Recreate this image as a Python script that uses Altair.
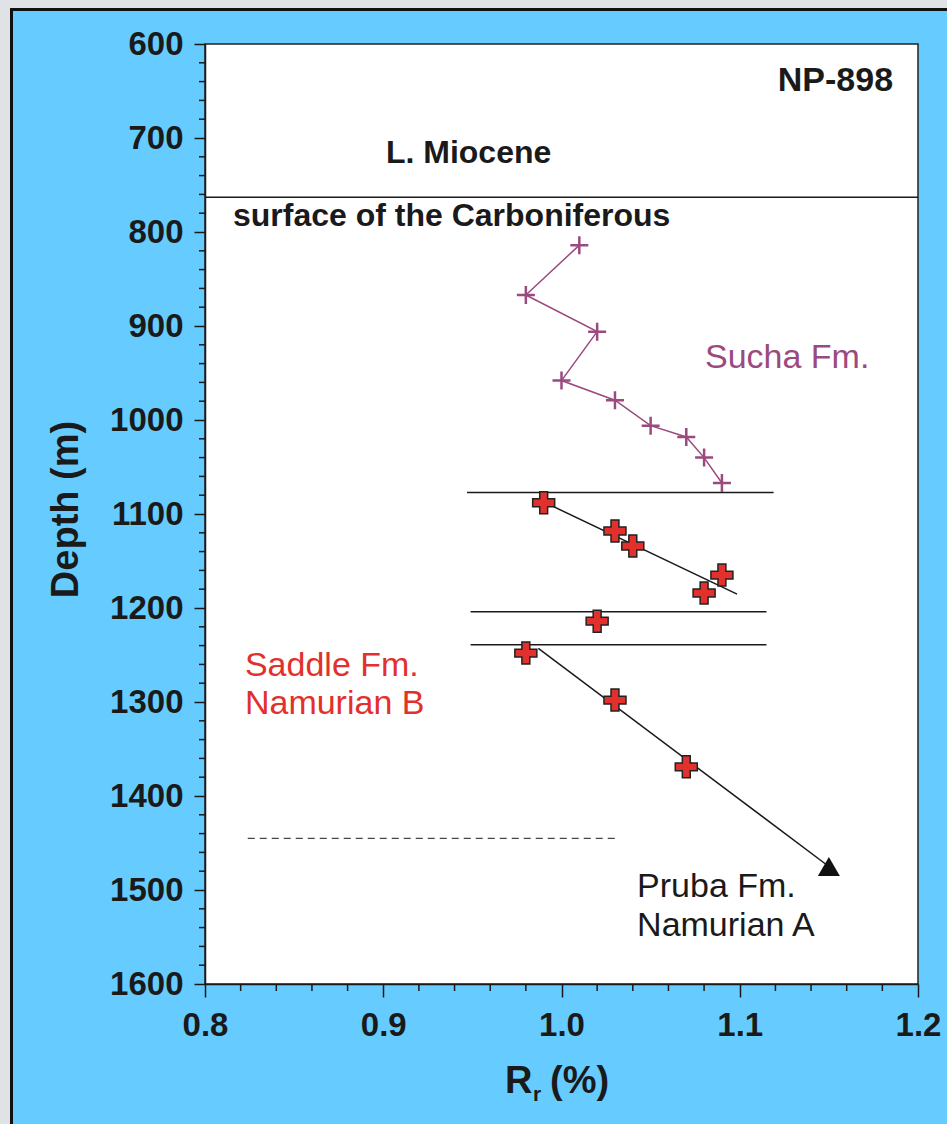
import altair as alt
import numpy as np
import pandas as pd

# Vitrinite reflectance (Rr, %) against depth (m) in well NP-898
sucha_rr = [1.01, 0.98, 1.02, 1.00, 1.03, 1.05, 1.07, 1.08, 1.09]
sucha_depth = [814, 867, 906, 958, 979, 1006, 1018, 1040, 1067]

saddle_rr = [0.99, 1.03, 1.04, 1.09, 1.08, 1.02, 0.98, 1.03, 1.07]
saddle_depth = [1088, 1118, 1134, 1165, 1184, 1214, 1248, 1298, 1369]
saddle_block = ["upper", "upper", "upper", "upper", "upper", "middle", "lower", "lower", "lower"]

pruba_rr = [1.15]
pruba_depth = [1475]

# extent of the least-squares fit through the upper Saddle block
upper_fit_extent = [0.99, 1.0985]

# lower trend line, running down to the extrapolated Pruba value
trend_rr = [0.987, 1.15]
trend_depth = [1243, 1475]

# formation boundaries: depth and horizontal extent
boundary_depth = [763, 1077, 1204, 1239]
boundary_from = [0.8, 0.947, 0.949, 0.949]
boundary_to = [1.2, 1.119, 1.115, 1.115]

dashed_depth = [1445]
dashed_from = [0.824]
dashed_to = [1.031]

depth_ticks = [600, 700, 800, 900, 1000, 1100, 1200, 1300, 1400, 1500, 1600]
rr_ticks = [0.8, 0.9, 1.0, 1.1, 1.2]
depth_minor = [d for d in range(620, 1600, 20) if d % 100]
rr_minor = [round(0.8 + 0.02 * i, 2) for i in range(1, 20) if i % 5]

FONT = "Liberation Sans"
INK = "#1a1a1a"
PURPLE = "#9a4a7e"
RED = "#e2302c"
BLUE = "#66ccff"

x_axis = alt.Axis(values=rr_ticks, format=".1f", title=None, tickSize=13, tickWidth=1.5,
                  tickColor=INK, domainColor=INK, domainWidth=1.5, labelPadding=12,
                  labelFont=FONT, labelFontWeight="bold", labelFontSize=33, labelColor=INK,
                  labelFlush=False, labelOverlap=False, grid=False)
y_axis = alt.Axis(values=depth_ticks, format="d", title="Depth (m)", tickSize=11, tickWidth=1.5,
                  tickColor=INK, domainColor=INK, domainWidth=1.5, labelPadding=11,
                  labelFont=FONT, labelFontWeight="bold", labelFontSize=33, labelColor=INK,
                  labelFlush=False, labelOverlap=False, grid=False,
                  titleFont=FONT, titleFontWeight="bold", titleFontSize=38, titleColor=INK,
                  titleAngle=270, titleAlign="center", titleBaseline="alphabetic",
                  titleX=-128, titleY=465)

x_scale = alt.Scale(domain=[0.8, 1.2], nice=False, zero=False)
y_scale = alt.Scale(domain=[600, 1600], nice=False, zero=False, reverse=True)


def X(field="rr"):
    return alt.X(f"{field}:Q", scale=x_scale, axis=x_axis)


def Y(field="depth"):
    return alt.Y(f"{field}:Q", scale=y_scale, axis=y_axis)


one = pd.DataFrame({"k": [0]})

sucha = pd.DataFrame({"rr": sucha_rr, "depth": sucha_depth, "seq": range(len(sucha_rr))})
saddle = pd.DataFrame({"rr": saddle_rr, "depth": saddle_depth, "block": saddle_block})
pruba = pd.DataFrame({"rr": pruba_rr, "depth": pruba_depth})
trend = pd.DataFrame({"rr": trend_rr, "depth": trend_depth})
bounds = pd.DataFrame({"depth": boundary_depth, "rr": boundary_from, "rr_end": boundary_to})
dashed = pd.DataFrame({"depth": dashed_depth, "rr": dashed_from, "rr_end": dashed_to})

# linear fit of depth on Rr for the upper Saddle block
upper = saddle[saddle["block"] == "upper"]
slope, intercept = np.polyfit(upper["rr"], upper["depth"], 1)
upper_fit = pd.DataFrame({
    "rr": upper_fit_extent,
    "depth": [slope * r + intercept for r in upper_fit_extent],
})

# outer sheet edge: grey margin and black frame line at top and left
frame = alt.layer(
    alt.Chart(one).mark_rect(color="#dfe3e6").encode(
        x=alt.value(-205), x2=alt.value(742), y=alt.value(-44), y2=alt.value(-36)),
    alt.Chart(one).mark_rect(color="#dfe3e6").encode(
        x=alt.value(-205), x2=alt.value(-195), y=alt.value(-44), y2=alt.value(1080)),
    alt.Chart(one).mark_rect(color="#111111").encode(
        x=alt.value(-195), x2=alt.value(742), y=alt.value(-36), y2=alt.value(-33)),
    alt.Chart(one).mark_rect(color="#111111").encode(
        x=alt.value(-195), x2=alt.value(-192), y=alt.value(-36), y2=alt.value(1080)),
)

boundary_rules = alt.Chart(bounds).mark_rule(color=INK, strokeWidth=1.5).encode(
    x=X(), x2="rr_end:Q", y=Y())
dashed_rule = alt.Chart(dashed).mark_rule(color=INK, strokeWidth=1, strokeDash=[7, 5]).encode(
    x=X(), x2="rr_end:Q", y=Y())

sucha_line = alt.Chart(sucha).mark_line(color=PURPLE, strokeWidth=1.5).encode(
    x=X(), y=Y(), order="seq:Q")
sucha_pts = alt.Chart(sucha).mark_point(
    shape="M-1,0L1,0M0,-1L0,1", filled=False, color=PURPLE, strokeWidth=2.5, size=324, opacity=1
).encode(x=X(), y=Y())

upper_line = alt.Chart(upper_fit).mark_line(color=INK, strokeWidth=1.5).encode(x=X(), y=Y())
lower_line = alt.Chart(trend).mark_line(color=INK, strokeWidth=1.5).encode(x=X(), y=Y())

PLUS = ("M-0.36,-1L0.36,-1L0.36,-0.36L1,-0.36L1,0.36L0.36,0.36L0.36,1L-0.36,1"
        "L-0.36,0.36L-1,0.36L-1,-0.36L-0.36,-0.36Z")
saddle_pts = alt.Chart(saddle).mark_point(
    shape=PLUS, filled=True, fill=RED, stroke="#222222", strokeWidth=1.5, size=484, opacity=1
).encode(x=X(), y=Y())

pruba_pt = alt.Chart(pruba).mark_point(
    shape="triangle-up", filled=True, color="#111111", size=484, opacity=1
).encode(x=X(), y=Y())


def label(text, rr, depth, color=INK, size=34, weight="normal", align="left"):
    return alt.Chart(one).mark_text(
        text=text, font=FONT, fontSize=size, fontWeight=weight, color=color,
        align=align, baseline="alphabetic"
    ).encode(x=alt.datum(rr), y=alt.datum(depth))


labels = alt.layer(
    label("NP-898", 1.186, 650, size=34, weight="bold", align="right"),
    label("L. Miocene", 0.9015, 726.5, size=32, weight="bold"),
    label("surface of the Carboniferous", 0.8157, 793.5, size=32, weight="bold"),
    label("Sucha Fm.", 1.0805, 944.5, color=PURPLE),
    label("Saddle Fm.", 0.8224, 1272, color=RED),
    label("Namurian B", 0.8224, 1312.5, color=RED),
    label("Pruba Fm.", 1.0424, 1507.5),
    label("Namurian A", 1.0424, 1549),
)

# minor ticks on both axes
minor_y = alt.Chart(pd.DataFrame({"depth": depth_minor})).mark_rule(
    color=INK, strokeWidth=1.5).encode(y=Y(), x=alt.value(-6), x2=alt.value(0))
minor_x = alt.Chart(pd.DataFrame({"rr": rr_minor})).mark_rule(
    color=INK, strokeWidth=1.5).encode(x=X(), y=alt.value(940), y2=alt.value(947))


def title_piece(text, px, py, size):
    return alt.Chart(one).mark_text(
        text=text, font=FONT, fontSize=size, fontWeight="bold", color=INK,
        align="left", baseline="alphabetic"
    ).encode(x=alt.value(px), y=alt.value(py))


x_title = alt.layer(
    title_piece("R", 300, 1049, 38),
    title_piece("r", 328, 1057, 21),
    title_piece("(%)", 345, 1049, 38),
)

chart = alt.layer(
    frame, boundary_rules, dashed_rule, sucha_line, sucha_pts, upper_line, lower_line,
    saddle_pts, pruba_pt, labels, minor_y, minor_x, x_title
).properties(
    width=713, height=940,
    autosize=alt.AutoSizeParams(type="none"),
    padding={"left": 205, "top": 44, "right": 29, "bottom": 140},
    background=BLUE,
).configure_view(
    fill="white", stroke="#222222", strokeWidth=1.5
)

chart.save("out.html", embed_options={"renderer": "svg", "actions": False})
